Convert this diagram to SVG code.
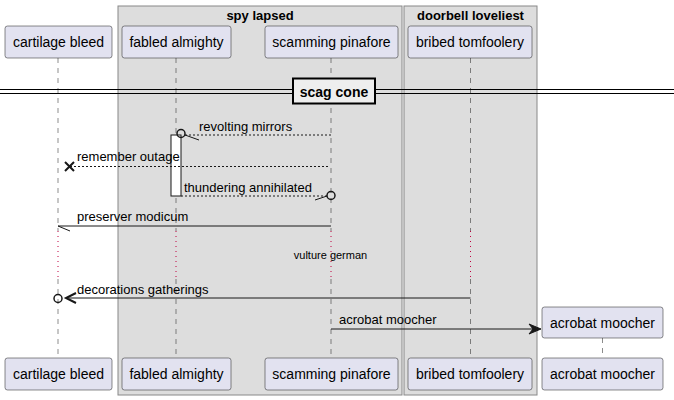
<svg xmlns="http://www.w3.org/2000/svg" width="674" height="400" viewBox="0 0 674 400">
<style>
text{font-family:"Liberation Sans",Arial,sans-serif;fill:#000}
.p rect{fill:#E2E2F0;stroke:#181818;stroke-width:0.5}
.p text{font-size:14px;text-anchor:middle}
.grp{fill:#DDDDDD;stroke:#888;stroke-width:1}
.gt{font-size:13px;font-weight:bold;text-anchor:middle}
.life{stroke:#181818;stroke-width:0.5;stroke-dasharray:5,5}
.delay{stroke:#C00040;stroke-width:1;stroke-dasharray:1,4}
.m{font-size:13px}
.sol{stroke:#181818;stroke-width:1;fill:none}
.dot{stroke:#181818;stroke-width:1;stroke-dasharray:2,2;fill:none}
</style>
<g id="groups">
<rect class="grp" x="118" y="6" width="284" height="389"/>
<text class="gt" x="260" y="20">spy lapsed</text>
<rect class="grp" x="404" y="6" width="133" height="389"/>
<text class="gt" x="470.5" y="20">doorbell loveliest</text>
</g>
<g id="lifelines">
<line class="life" x1="58" y1="58" x2="58" y2="231"/>
<line class="delay" x1="58" y1="231" x2="58" y2="279"/>
<line class="life" x1="58" y1="279" x2="58" y2="358"/>
<line class="life" x1="176" y1="58" x2="176" y2="231"/>
<line class="delay" x1="176" y1="231" x2="176" y2="279"/>
<line class="life" x1="176" y1="279" x2="176" y2="358"/>
<line class="life" x1="331" y1="58" x2="331" y2="231"/>
<line class="delay" x1="331" y1="231" x2="331" y2="279"/>
<line class="life" x1="331" y1="279" x2="331" y2="358"/>
<line class="life" x1="470.5" y1="58" x2="470.5" y2="231"/>
<line class="delay" x1="470.5" y1="231" x2="470.5" y2="279"/>
<line class="life" x1="470.5" y1="279" x2="470.5" y2="358"/>
<line class="life" x1="602.5" y1="338" x2="602.5" y2="358"/>
</g>
<g id="divider">
<line x1="0" y1="89.5" x2="674" y2="89.5" stroke="#000" stroke-width="1"/>
<line x1="0" y1="93.5" x2="674" y2="93.5" stroke="#000" stroke-width="1"/>
<rect x="293" y="78.5" width="82" height="25" fill="#EEEEEE" stroke="#000" stroke-width="2"/>
<text x="334" y="96.5" font-size="14" font-weight="bold" text-anchor="middle">scag cone</text>
</g>
<g id="activation">
<rect x="171" y="135" width="10" height="61" fill="#FFFFFF" stroke="#181818" stroke-width="1"/>
</g>
<g id="connectors">
<line class="dot" x1="185" y1="135" x2="331" y2="135"/>
<circle cx="181" cy="133.5" r="4" fill="none" stroke="#181818" stroke-width="1.5"/>
<line class="sol" x1="185" y1="135" x2="199" y2="140"/>
<text class="m" x="199" y="131">revolting mirrors</text>

<line class="dot" x1="70" y1="166.5" x2="329" y2="166.5"/>
<path d="M65,162 L74,171 M65,171 L74,162" stroke="#181818" stroke-width="2" fill="none"/>
<text class="m" x="77" y="161">remember outage</text>

<line class="dot" x1="181" y1="196" x2="327" y2="196"/>
<circle cx="331" cy="195.5" r="4" fill="none" stroke="#181818" stroke-width="1.5"/>
<line class="sol" x1="315" y1="200" x2="327" y2="196"/>
<text class="m" x="184" y="192">thundering annihilated</text>

<line class="sol" x1="58" y1="226" x2="331" y2="226"/>
<line class="sol" x1="58" y1="226" x2="70" y2="231"/>
<text class="m" x="77" y="221">preserver modicum</text>

<text x="330.5" y="259" font-size="11" text-anchor="middle">vulture german</text>

<line class="sol" x1="66" y1="298" x2="470.5" y2="298"/>
<circle cx="58" cy="298.5" r="4" fill="none" stroke="#181818" stroke-width="1.5"/>
<path d="M76,293 L66,298 L76,303" stroke="#181818" stroke-width="2" fill="none"/>
<text class="m" x="77" y="294">decorations gatherings</text>

<line class="sol" x1="331" y1="329" x2="534" y2="329"/>
<path d="M541,329 L529,324 L533,329 L529,334 Z" fill="#181818" stroke="#181818" stroke-width="1"/>
<text class="m" x="339" y="324">acrobat moocher</text>
</g>
<g id="cartilage-bleed" class="p">
<rect x="5" y="26" width="107" height="32" rx="2.5"/>
<text x="58.5" y="47">cartilage bleed</text>
<rect x="5" y="358" width="107" height="32" rx="2.5"/>
<text x="58.5" y="379">cartilage bleed</text>
</g>
<g id="fabled-almighty" class="p">
<rect x="122" y="26" width="109" height="32" rx="2.5"/>
<text x="176.5" y="47">fabled almighty</text>
<rect x="122" y="358" width="109" height="32" rx="2.5"/>
<text x="176.5" y="379">fabled almighty</text>
</g>
<g id="scamming-pinafore" class="p">
<rect x="265" y="26" width="133" height="32" rx="2.5"/>
<text x="331.5" y="47">scamming pinafore</text>
<rect x="265" y="358" width="133" height="32" rx="2.5"/>
<text x="331.5" y="379">scamming pinafore</text>
</g>
<g id="bribed-tomfoolery" class="p">
<rect x="408" y="26" width="124" height="32" rx="2.5"/>
<text x="470" y="47">bribed tomfoolery</text>
<rect x="408" y="358" width="124" height="32" rx="2.5"/>
<text x="470" y="379">bribed tomfoolery</text>
</g>
<g id="acrobat-moocher" class="p">
<rect x="542" y="307" width="121" height="31" rx="2.5"/>
<text x="602.5" y="328">acrobat moocher</text>
<rect x="542" y="358" width="121" height="32" rx="2.5"/>
<text x="602.5" y="379">acrobat moocher</text>
</g>
</svg>
